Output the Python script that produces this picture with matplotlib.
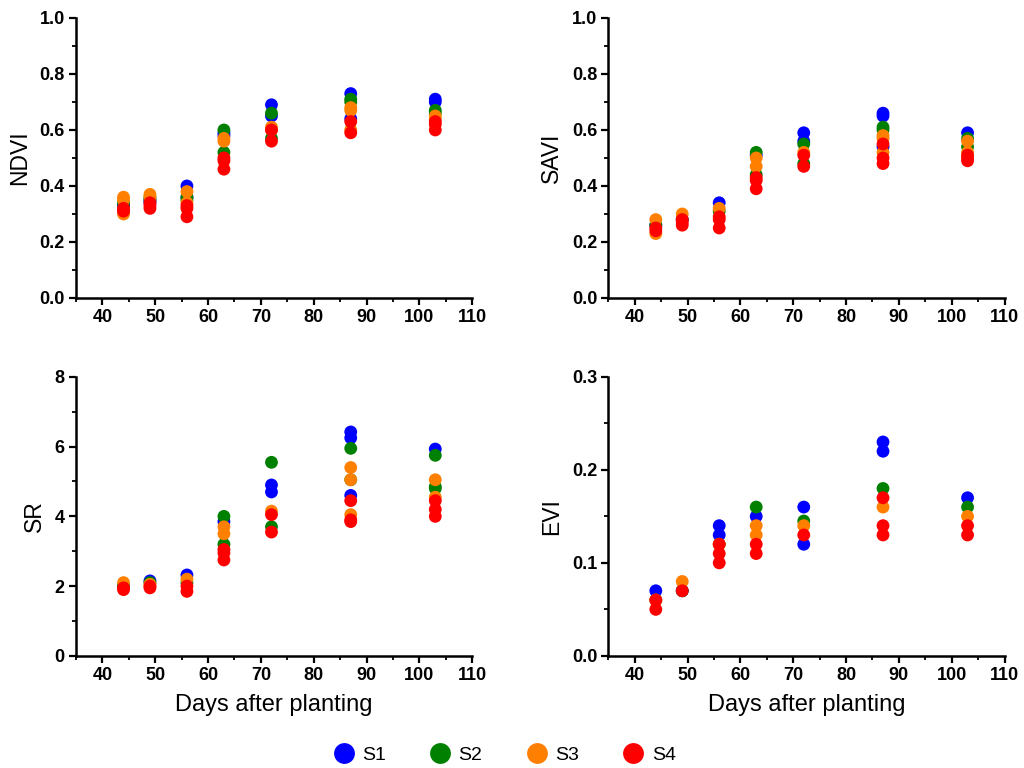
import matplotlib.pyplot as plt
from matplotlib.ticker import MultipleLocator, FormatStrFormatter
from matplotlib.lines import Line2D

plt.rcParams['font.family'] = ['Liberation Sans', 'DejaVu Sans']

# Hari setelah tanam
days = [44, 49, 56, 63, 72, 87, 103]

series = ['S1', 'S2', 'S3', 'S4']
colors = ['#0000ff', '#008000', '#ff8000', '#ff0000']

# NDVI per seri, tiap tanggal beberapa ulangan
ndvi_s1 = [[0.33, 0.31], [0.35, 0.34], [0.40, 0.36], [0.59, 0.58], [0.69, 0.65], [0.73, 0.64], [0.71, 0.70]]
ndvi_s2 = [[0.34, 0.32], [0.36, 0.35], [0.36, 0.35], [0.60, 0.52], [0.66, 0.57], [0.71, 0.70], [0.67, 0.66]]
ndvi_s3 = [[0.36, 0.30, 0.35], [0.37, 0.36], [0.38, 0.34], [0.57, 0.56], [0.61, 0.60], [0.68, 0.67, 0.60], [0.65, 0.64]]
ndvi_s4 = [[0.32, 0.31], [0.34, 0.33, 0.32], [0.33, 0.32, 0.29], [0.50, 0.49, 0.46], [0.60, 0.56], [0.63, 0.59], [0.63, 0.62, 0.60]]

# SAVI
savi_s1 = [[0.26], [0.28], [0.34], [0.51], [0.59, 0.56], [0.66, 0.65, 0.54], [0.59]]
savi_s2 = [[0.26], [0.28], [0.31], [0.52, 0.44], [0.55, 0.48], [0.61, 0.60], [0.57, 0.54]]
savi_s3 = [[0.28, 0.23], [0.30], [0.32], [0.50, 0.47], [0.52], [0.58, 0.57, 0.52], [0.56, 0.52]]
savi_s4 = [[0.25, 0.24], [0.28, 0.27, 0.26], [0.29, 0.28, 0.25], [0.43, 0.42, 0.39], [0.51, 0.47], [0.55, 0.50, 0.48], [0.51, 0.50, 0.49]]

# SR
sr_s1 = [[2.0], [2.15], [2.32], [3.85], [4.9, 4.7], [6.42, 6.25, 4.6], [5.93]]
sr_s2 = [[2.0], [2.1], [2.1], [4.0, 3.2], [5.55, 3.7], [5.95, 5.05], [5.75, 4.85, 4.8]]
sr_s3 = [[2.1], [2.05], [2.2], [3.7, 3.5], [4.15], [5.4, 5.05, 4.05], [5.05, 4.55]]
sr_s4 = [[1.95, 1.9], [2.0, 1.95], [2.0, 1.85], [3.05, 2.95, 2.75], [4.05, 3.55], [4.45, 3.9, 3.85], [4.45, 4.2, 4.0]]

# EVI
evi_s1 = [[0.07], [0.07], [0.14, 0.13], [0.15], [0.16, 0.12], [0.23, 0.22], [0.17]]
evi_s2 = [[0.06], [0.07], [0.12], [0.16], [0.145], [0.18], [0.16]]
evi_s3 = [[0.06], [0.08], [0.12], [0.14, 0.13], [0.14], [0.16], [0.15]]
evi_s4 = [[0.06, 0.05], [0.07], [0.12, 0.11, 0.10], [0.12, 0.11], [0.13], [0.17, 0.14, 0.13], [0.14, 0.13]]

panels = [
    ('NDVI', [ndvi_s1, ndvi_s2, ndvi_s3, ndvi_s4], (0, 1.0), 0.2, 0.1, '%.1f'),
    ('SAVI', [savi_s1, savi_s2, savi_s3, savi_s4], (0, 1.0), 0.2, 0.1, '%.1f'),
    ('SR', [sr_s1, sr_s2, sr_s3, sr_s4], (0, 8), 2, 1, '%d'),
    ('EVI', [evi_s1, evi_s2, evi_s3, evi_s4], (0, 0.3), 0.1, 0.05, '%.1f'),
]

fig = plt.figure(figsize=(10.24, 7.68), dpi=100)
rects = [
    [0.0742, 0.612, 0.387, 0.3646],
    [0.594, 0.612, 0.387, 0.3646],
    [0.0742, 0.146, 0.387, 0.3633],
    [0.594, 0.146, 0.387, 0.3633],
]

for i, (name, data, ylim, major, minor, fmt) in enumerate(panels):
    ax = fig.add_axes(rects[i])
    for s, vals in enumerate(data):
        xs = []
        ys = []
        for d, reps in zip(days, vals):
            for v in reps:
                xs.append(d)
                ys.append(v)
        ax.scatter(xs, ys, s=85, color=colors[s], edgecolors='none', zorder=3 + s)
    ax.set_xlim(35, 110)
    ax.set_ylim(*ylim)
    ax.xaxis.set_major_locator(MultipleLocator(10))
    ax.xaxis.set_minor_locator(MultipleLocator(5))
    ax.yaxis.set_major_locator(MultipleLocator(major))
    ax.yaxis.set_minor_locator(MultipleLocator(minor))
    ax.yaxis.set_major_formatter(FormatStrFormatter(fmt))
    for sp in ['top', 'right']:
        ax.spines[sp].set_visible(False)
    for sp in ['left', 'bottom']:
        ax.spines[sp].set_linewidth(1.8)
    ax.tick_params(which='major', direction='out', length=5, width=1.6, labelsize=13, pad=3)
    ax.tick_params(which='minor', direction='out', length=3, width=1.3)
    for lab in ax.get_xticklabels() + ax.get_yticklabels():
        lab.set_fontweight('bold')
    ax.set_ylabel(name, fontsize=16.5, labelpad=6)
    if i >= 2:
        ax.set_xlabel('Days after planting', fontsize=17, labelpad=7)

handles = [Line2D([], [], marker='o', linestyle='none', markersize=15,
                  markerfacecolor=c, markeredgecolor='none') for c in colors]
fig.legend(handles, series, loc='center', bbox_to_anchor=(0.493, 0.017),
           ncol=4, frameon=False, fontsize=14, handlelength=1.0,
           handletextpad=0.44, columnspacing=2.3, borderpad=0.2)

plt.savefig('out.png', dpi=100)
